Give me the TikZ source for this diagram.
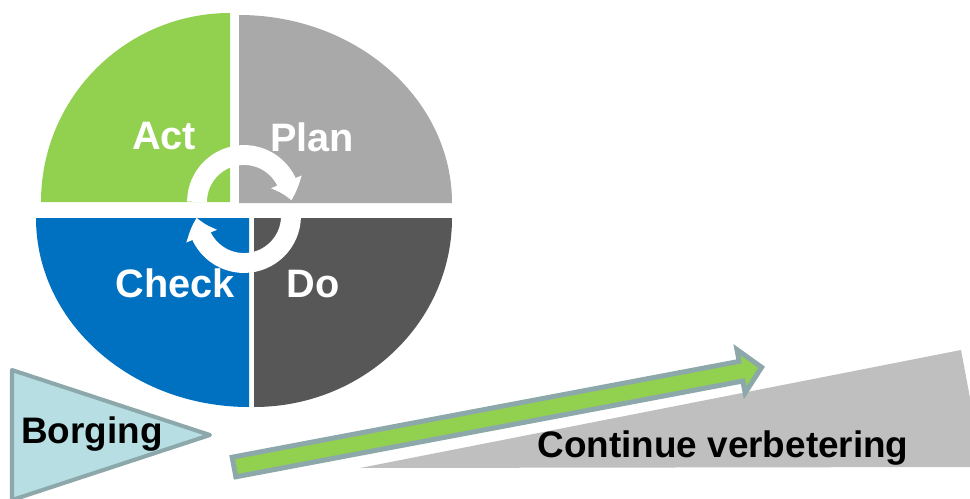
\documentclass[tikz,border=0pt]{standalone}
\usepackage{fontspec}
\setmainfont{Liberation Sans}
\usepackage{tikz}
\usetikzlibrary{arrows.meta, bending}
\definecolor{actgreen}{HTML}{92D050}
\definecolor{plangrey}{HTML}{A9A9A9}
\definecolor{checkblue}{HTML}{0070C0}
\definecolor{dogrey}{HTML}{575757}
\definecolor{borgfill}{HTML}{B7DFE3}
\definecolor{rimgrey}{HTML}{8DA8AB}
\definecolor{slopegrey}{HTML}{BFBFBF}
\tikzset{
  pdca/.style={font=\fontsize{22.6}{27}\selectfont\bfseries, text=white, anchor=base, inner sep=0pt},
  caption/.style={font=\fontsize{21}{25}\selectfont\bfseries, anchor=base, inner sep=0pt},
  turn/.style={white, line width=11.3pt, -{Triangle[width=18pt, length=11pt, bend]}}
}

\begin{document}
\begin{tikzpicture}[x=0.02cm, y=0.02cm]
\useasboundingbox (0,0) rectangle (970,498);
% quarters of the cycle
\fill[actgreen] (230,296) -- ++(-189,0) arc[start angle=180, end angle=90, radius=189] -- cycle;
\fill[plangrey] (239,295) -- ++(0,188) arc[start angle=90, end angle=0, x radius=213, y radius=188] -- cycle;
\fill[checkblue] (249,280) -- ++(-213,0) arc[start angle=180, end angle=270, x radius=213, y radius=189] -- cycle;
\fill[dogrey] (254,280) -- ++(0,-189) arc[start angle=270, end angle=360, x radius=198, y radius=189] -- cycle;
%
\draw[turn] (197,296) arc[start angle=180, end angle=2, radius=47];
\draw[turn] (291,282) arc[start angle=0, end angle=-178, radius=47];
%
\node[pdca](act) at (164,349) {Act};
\node[pdca](plan) at (312,347) {Plan};
\node[pdca](check) at (175,201) {Check};
\node[pdca](do) at (313,201) {Do};
% slope and arrow
\fill[slopegrey] (360,30) -- (961,148) -- (983,31) -- cycle;
\begin{scope}[shift={(234,31)}, rotate=10.7]
\draw[rimgrey, fill=actgreen, line width=2.8pt] (0,-10) -- (516,-10) -- (516,-22) -- (537,0) -- (516,22) -- (516,10) -- (0,10) -- cycle;
\end{scope}
\node[caption](verbetering) at (723,41) {Continue verbetering};
%
\draw[rimgrey, fill=borgfill, line width=2.3pt, line join=round] (12,128) -- (210,63) -- (12,-2) -- cycle;
\node[caption](borging) at (92,55) {Borging};
\end{tikzpicture}
\end{document}
